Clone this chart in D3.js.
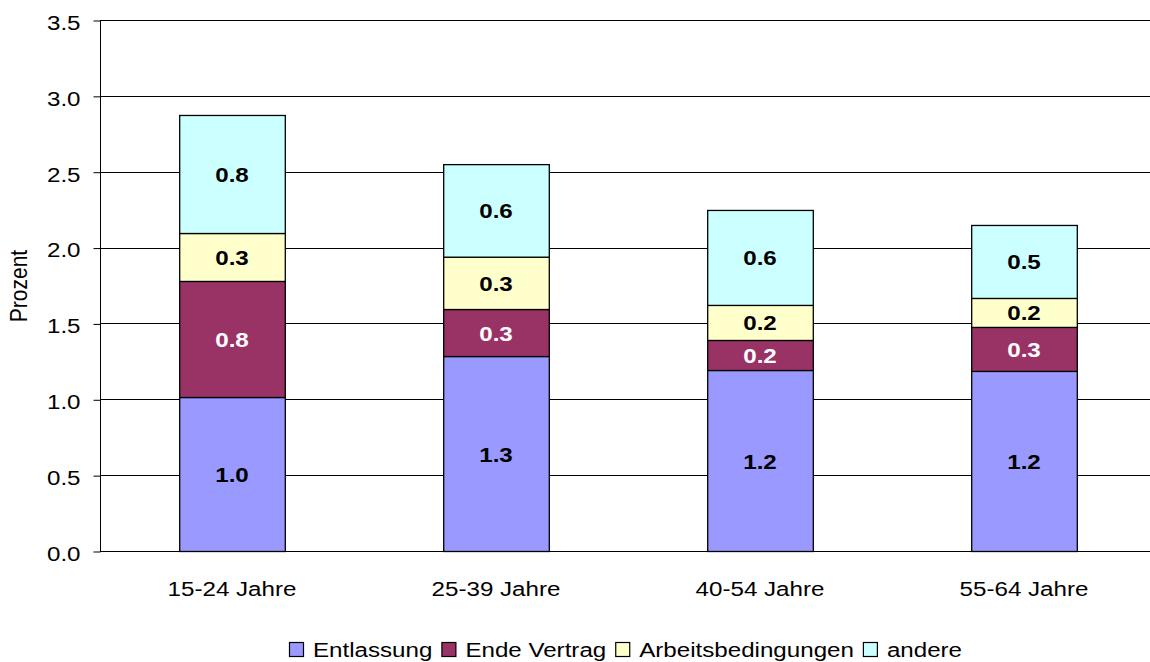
<!DOCTYPE html>
<html><head><meta charset="utf-8">
<script src="https://cdn.jsdelivr.net/npm/d3@7"></script>
<style>body{margin:0;background:#fff}svg{display:block;font-family:"Liberation Sans",Arial,sans-serif}</style>
</head><body><svg id="c" width="1150" height="662"></svg>
<script>
const categories = ["15-24 Jahre","25-39 Jahre","40-54 Jahre","55-64 Jahre"];
const seriesNames = ["Entlassung","Ende Vertrag","Arbeitsbedingungen","andere"];
const entlassung = [1.015, 1.285, 1.193, 1.187];
const endeVertrag = [0.765, 0.31, 0.198, 0.29];
const arbeitsbedingungen = [0.316, 0.345, 0.231, 0.191];
const andere = [0.778, 0.61, 0.626, 0.481];
const colors = ["#9999ff","#993366","#ffffcc","#ccffff"];
const labelColors = ["#000","#fff","#000","#000"];
const yTicks = [0,0.5,1.0,1.5,2.0,2.5,3.0,3.5];

const SX = 1.15, FS = 21;
const seriesVals = [entlassung, endeVertrag, arbeitsbedingungen, andere];
const rows = categories.map((c,i)=>{const r={cat:c}; seriesNames.forEach((s,j)=>r[s]=seriesVals[j][i]); return r;});
const stacked = d3.stack().keys(seriesNames)(rows);

const svg = d3.select("#c");
const m = {left:100, top:20, right:1156, bottom:551};
const x = d3.scaleBand().domain(categories).range([m.left, m.right]).paddingInner(0.6).paddingOuter(0.3);
const y = d3.scaleLinear().domain([0,3.5]).range([m.bottom, m.top]);

function stext(parent, px, py, str, opts={}) {
  const t = parent.append("text")
    .attr("transform", `translate(${px},${py}) scale(${SX},1)`)
    .attr("font-size", opts.size || FS)
    .attr("text-anchor", opts.anchor || "start")
    .attr("fill", opts.fill || "#000")
    .text(str);
  if (opts.bold) t.attr("font-weight","bold");
  return t;
}

// gridlines
svg.append("g").selectAll("line").data(yTicks.filter(d=>d>0)).join("line")
  .attr("x1",m.left).attr("x2",1150).attr("y1",d=>Math.round(y(d))+0.5).attr("y2",d=>Math.round(y(d))+0.5)
  .attr("stroke","#000").attr("stroke-width",1);

// y axis
const ya = svg.append("g").attr("transform",`translate(${m.left+0.5},0.5)`)
  .call(d3.axisLeft(y).tickValues(yTicks).tickFormat(d3.format(".1f")).tickSize(7).tickPadding(13));
ya.select(".domain").attr("stroke","#000").attr("d",`M0,${y(3.5)}V${y(0)}`);
ya.selectAll(".tick line").attr("stroke","#000");
ya.selectAll(".tick text")
  .attr("x", -20/SX).attr("dy","0.42em")
  .attr("transform",`scale(${SX},1)`)
  .attr("font-size",FS).attr("fill","#000")
  .style("font-family","Liberation Sans, Arial, sans-serif");

// bars
const g = svg.append("g");
stacked.forEach((layer,j)=>{
  g.append("g").selectAll("rect").data(layer).join("rect")
    .attr("x",d=>x(d.data.cat)+0.5).attr("width",x.bandwidth())
    .attr("y",d=>y(d[1])+0.5).attr("height",d=>y(d[0])-y(d[1]))
    .attr("fill",colors[j]).attr("stroke","#000").attr("stroke-width",1.3);
});
stacked.forEach((layer,j)=>{
  const lg = g.append("g");
  layer.forEach(d=>{
    stext(lg, x(d.data.cat)+x.bandwidth()/2, (y(d[0])+y(d[1]))/2+8,
      d3.format(".1f")(d[1]-d[0]), {anchor:"middle", bold:true, fill:labelColors[j]});
  });
});

// x axis line + labels
svg.append("line").attr("x1",m.left).attr("x2",1150).attr("y1",m.bottom+0.5).attr("y2",m.bottom+0.5).attr("stroke","#000");
const xl = svg.append("g");
categories.forEach(c=>stext(xl, x(c)+x.bandwidth()/2, 596, c, {anchor:"middle"}));

// y label
svg.append("text").attr("transform","translate(27,286) rotate(-90) scale(1,1.1)").attr("text-anchor","middle")
  .attr("font-size",FS).text("Prozent");

// legend
const leg = svg.append("g");
let lx = 289;
seriesNames.forEach((s,j)=>{
  leg.append("rect").attr("x",lx+0.5).attr("y",642.5).attr("width",14).attr("height",14)
    .attr("fill",colors[j]).attr("stroke","#000").attr("stroke-width",1.2);
  const t = stext(leg, lx+24, 657, s);
  lx += 24 + t.node().getComputedTextLength()*SX + 9;
});
</script></body></html>
